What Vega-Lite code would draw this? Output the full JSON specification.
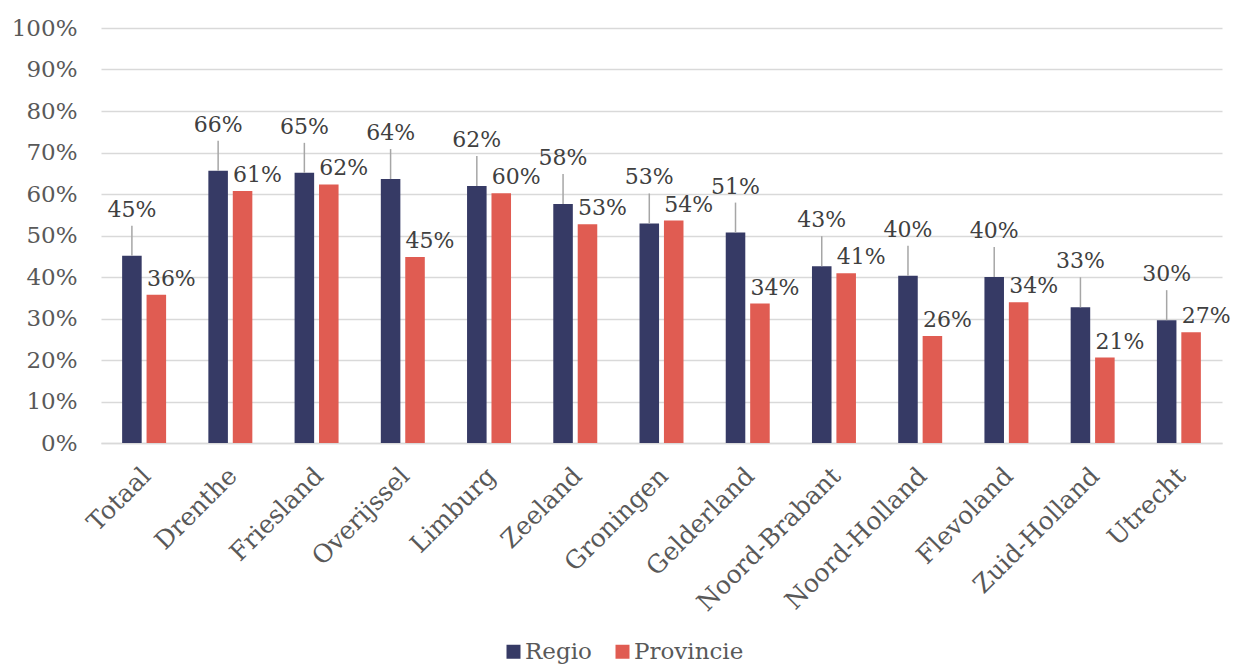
{
  "$schema": "https://vega.github.io/schema/vega-lite/v6.json",
  "autosize": {"type": "none"},
  "width": 1121,
  "height": 415,
  "padding": {"left": 101, "top": 28, "right": 14, "bottom": 221},
  "background": "white",
  "config": {
    "font": "DejaVu Serif",
    "view": {"stroke": null},
    "axis": {"labelColor": "#595959", "ticks": false, "title": null}
  },
  "data": {
    "values": [
      {"regio": "Totaal", "reeks": "Regio", "waarde": 0.451},
      {"regio": "Totaal", "reeks": "Provincie", "waarde": 0.357},
      {"regio": "Drenthe", "reeks": "Regio", "waarde": 0.656},
      {"regio": "Drenthe", "reeks": "Provincie", "waarde": 0.607},
      {"regio": "Friesland", "reeks": "Regio", "waarde": 0.651},
      {"regio": "Friesland", "reeks": "Provincie", "waarde": 0.623},
      {"regio": "Overijssel", "reeks": "Regio", "waarde": 0.636},
      {"regio": "Overijssel", "reeks": "Provincie", "waarde": 0.448},
      {"regio": "Limburg", "reeks": "Regio", "waarde": 0.619},
      {"regio": "Limburg", "reeks": "Provincie", "waarde": 0.602},
      {"regio": "Zeeland", "reeks": "Regio", "waarde": 0.576},
      {"regio": "Zeeland", "reeks": "Provincie", "waarde": 0.527},
      {"regio": "Groningen", "reeks": "Regio", "waarde": 0.529},
      {"regio": "Groningen", "reeks": "Provincie", "waarde": 0.536},
      {"regio": "Gelderland", "reeks": "Regio", "waarde": 0.507},
      {"regio": "Gelderland", "reeks": "Provincie", "waarde": 0.336},
      {"regio": "Noord-Brabant", "reeks": "Regio", "waarde": 0.426},
      {"regio": "Noord-Brabant", "reeks": "Provincie", "waarde": 0.409},
      {"regio": "Noord-Holland", "reeks": "Regio", "waarde": 0.403},
      {"regio": "Noord-Holland", "reeks": "Provincie", "waarde": 0.258},
      {"regio": "Flevoland", "reeks": "Regio", "waarde": 0.400},
      {"regio": "Flevoland", "reeks": "Provincie", "waarde": 0.339},
      {"regio": "Zuid-Holland", "reeks": "Regio", "waarde": 0.327},
      {"regio": "Zuid-Holland", "reeks": "Provincie", "waarde": 0.206},
      {"regio": "Utrecht", "reeks": "Regio", "waarde": 0.296},
      {"regio": "Utrecht", "reeks": "Provincie", "waarde": 0.267}
    ]
  },
  "encoding": {
    "x": {
      "field": "regio",
      "type": "nominal",
      "sort": null,
      "scale": {"paddingInner": 0.49, "paddingOuter": 0.245},
      "axis": {
        "labelAngle": -45,
        "labelAlign": "right",
        "labelBaseline": "top",
        "labelFontSize": 25,
        "labelPadding": 20,
        "labelOffset": -6,
        "labelLimit": 0,
        "domainColor": "#d9d9d9",
        "domainWidth": 1.5,
        "grid": false
      }
    },
    "xOffset": {
      "field": "reeks",
      "type": "nominal",
      "scale": {"domain": ["Regio", "Provincie"], "paddingInner": 0.2, "paddingOuter": 0}
    },
    "y": {
      "field": "waarde",
      "type": "quantitative",
      "scale": {"domain": [0, 1], "nice": false},
      "axis": {
        "values": [0, 0.1, 0.2, 0.3, 0.4, 0.5, 0.6, 0.7, 0.8, 0.9, 1],
        "format": ".0%",
        "domain": false,
        "labelFontSize": 23,
        "labelPadding": 24,
        "gridColor": "#d9d9d9",
        "gridWidth": 1.5
      }
    }
  },
  "layer": [
    {
      "mark": {"type": "bar"},
      "encoding": {
        "color": {
          "field": "reeks",
          "type": "nominal",
          "scale": {"domain": ["Regio", "Provincie"], "range": ["#363a65", "#e05c52"]},
          "legend": {
            "title": null,
            "orient": "none",
            "direction": "horizontal",
            "legendX": 401,
            "legendY": 612,
            "symbolType": "square",
            "symbolSize": 196,
            "symbolStrokeWidth": 0,
            "labelFontSize": 23,
            "labelColor": "#595959",
            "labelOffset": 0,
            "columnPadding": 19
          }
        }
      }
    },
    {
      "transform": [{"filter": "datum.reeks === 'Regio'"}],
      "mark": {"type": "rule", "color": "#a6a6a6", "strokeWidth": 1.5, "y2Offset": -30},
      "encoding": {"y2": {"field": "waarde"}}
    },
    {
      "transform": [{"filter": "datum.reeks === 'Regio'"}],
      "mark": {"type": "text", "baseline": "bottom", "dy": -34, "fontSize": 22, "color": "#404040"},
      "encoding": {"text": {"field": "waarde", "type": "quantitative", "format": ".0%"}}
    },
    {
      "transform": [{"filter": "datum.reeks === 'Provincie'"}],
      "mark": {"type": "text", "baseline": "bottom", "dy": -4, "dx": 15, "fontSize": 22, "color": "#404040"},
      "encoding": {"text": {"field": "waarde", "type": "quantitative", "format": ".0%"}}
    }
  ]
}
